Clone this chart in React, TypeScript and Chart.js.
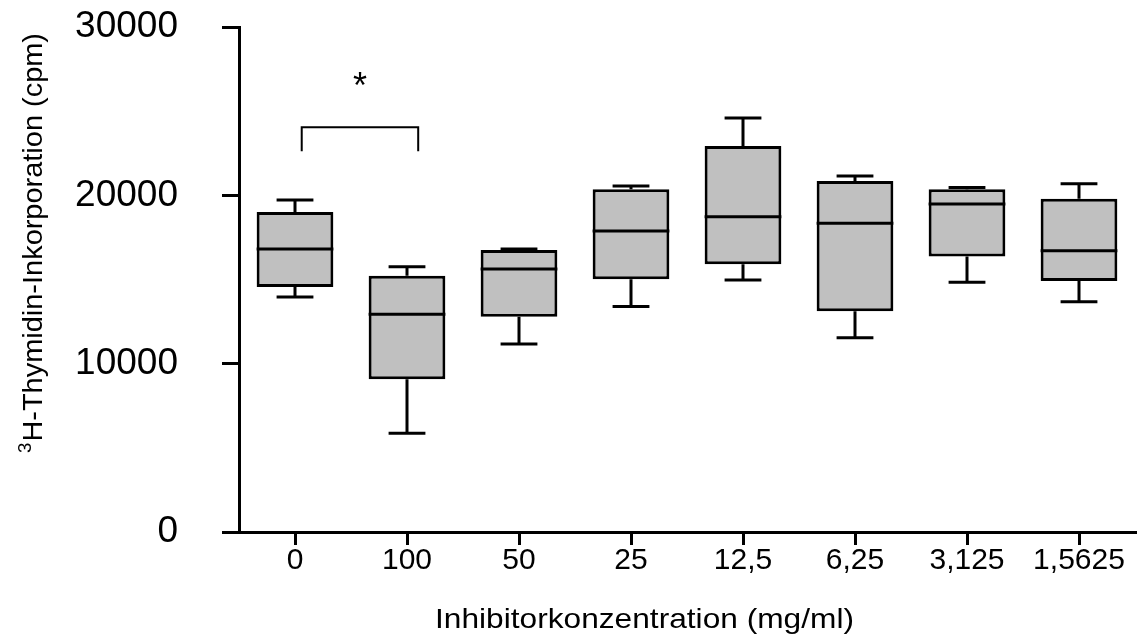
import { useEffect, useRef } from "react";
import { Chart, registerables } from "chart.js";

Chart.register(...registerables);

// Inhibitor concentrations (mg/ml), one box per group
const categories = ["0", "100", "50", "25", "12,5", "6,25", "3,125", "1,5625"];

// Box-plot statistics, ³H-thymidine incorporation (cpm)
const whiskerLow = [13960, 5860, 11170, 13390, 14970, 11540, 14840, 13680];
const q1 = [14560, 9070, 12790, 15010, 15900, 13110, 16360, 14910];
const median = [16810, 12930, 15630, 17880, 18730, 18340, 19490, 16710];
const q3 = [19010, 15230, 16750, 20360, 22930, 20850, 20360, 19800];
const whiskerHigh = [19720, 15760, 16810, 20560, 24600, 21150, 20460, 20690];

const yTicks = [0, 10000, 20000, 30000];

// Significance bracket between the "0" and "100" groups
const bracketFrom = 0.06;
const bracketTo = 1.1;
const bracketTop = 24050;
const bracketLegBottom = 22620;
const bracketMarkValue = 26900;
const bracketMark = "*";

const xTitle = "Inhibitorkonzentration (mg/ml)";
const yTitleSup = "3";
const yTitleMain = "H-Thymidin-Inkorporation (cpm)";

const FONT = "'Liberation Sans', Arial, Helvetica, sans-serif";
const INK = "#000000";
const BOX_FILL = "#c0c0c0";

const boxPlotPlugin = {
  id: "boxWhiskers",
  beforeDatasetsDraw(chart: any) {
    const ctx = chart.ctx;
    const ys = chart.scales.y;
    const meta = chart.getDatasetMeta(0);
    ctx.save();
    ctx.strokeStyle = INK;
    ctx.lineWidth = 3;
    ctx.lineCap = "butt";
    meta.data.forEach((bar: any, i: number) => {
      const { x, width } = bar.getProps(["x", "width"], true);
      const cap = width * 0.48;
      const segs: [number, number][] = [
        [q3[i], whiskerHigh[i]],
        [q1[i], whiskerLow[i]],
      ];
      for (const [from, to] of segs) {
        const y0 = ys.getPixelForValue(from);
        const y1 = ys.getPixelForValue(to);
        ctx.beginPath();
        ctx.moveTo(x, y0);
        ctx.lineTo(x, y1);
        ctx.moveTo(x - cap / 2, y1);
        ctx.lineTo(x + cap / 2, y1);
        ctx.stroke();
      }
    });
    ctx.restore();
  },
  afterDatasetsDraw(chart: any) {
    const ctx = chart.ctx;
    const ys = chart.scales.y;
    const xs = chart.scales.x;
    const meta = chart.getDatasetMeta(0);
    ctx.save();
    ctx.strokeStyle = INK;
    ctx.lineWidth = 3;
    meta.data.forEach((bar: any, i: number) => {
      const { x, width } = bar.getProps(["x", "width"], true);
      const ym = ys.getPixelForValue(median[i]);
      ctx.beginPath();
      ctx.moveTo(x - width / 2, ym);
      ctx.lineTo(x + width / 2, ym);
      ctx.stroke();
    });

    // significance bracket
    const bx1 = xs.getPixelForValue(bracketFrom);
    const bx2 = xs.getPixelForValue(bracketTo);
    const byTop = ys.getPixelForValue(bracketTop);
    const byLeg = ys.getPixelForValue(bracketLegBottom);
    ctx.lineWidth = 2;
    ctx.beginPath();
    ctx.moveTo(bx1, byLeg);
    ctx.lineTo(bx1, byTop);
    ctx.lineTo(bx2, byTop);
    ctx.lineTo(bx2, byLeg);
    ctx.stroke();

    ctx.fillStyle = INK;
    ctx.font = `36px ${FONT}`;
    ctx.textAlign = "center";
    ctx.textBaseline = "alphabetic";
    const m = ctx.measureText(bracketMark);
    const my = ys.getPixelForValue(bracketMarkValue);
    const off = (m.actualBoundingBoxAscent - m.actualBoundingBoxDescent) / 2;
    ctx.fillText(bracketMark, (bx1 + bx2) / 2, my + off);
    ctx.restore();
  },
  afterDraw(chart: any) {
    const ctx = chart.ctx;
    ctx.save();
    ctx.fillStyle = INK;

    // x-axis title
    ctx.font = `28px ${FONT}`;
    ctx.textBaseline = "alphabetic";
    ctx.textAlign = "left";
    const xw = ctx.measureText(xTitle).width;
    const xLeft = 435;
    const xSpan = 419;
    ctx.translate(xLeft, 628);
    ctx.scale(xSpan / xw, 1);
    ctx.fillText(xTitle, 0, 0);
    ctx.restore();

    // y-axis title, rotated, with superscript mass number
    ctx.save();
    ctx.fillStyle = INK;
    ctx.textBaseline = "alphabetic";
    ctx.textAlign = "left";
    ctx.font = `18px ${FONT}`;
    const supW = ctx.measureText(yTitleSup).width;
    ctx.font = `28px ${FONT}`;
    const mainW = ctx.measureText(yTitleMain).width;
    const ySpan = 420;
    const k = ySpan / (supW + 1 + mainW);
    ctx.translate(42, 453);
    ctx.rotate(-Math.PI / 2);
    ctx.scale(k, 1);
    ctx.font = `18px ${FONT}`;
    ctx.fillText(yTitleSup, 0, -11);
    ctx.font = `28px ${FONT}`;
    ctx.fillText(yTitleMain, supW + 1, 0);
    ctx.restore();
  },
};

export default function App() {
  const canvasRef = useRef<HTMLCanvasElement | null>(null);

  useEffect(() => {
    const canvas = canvasRef.current;
    if (!canvas) return;
    Chart.defaults.font.family = FONT;
    const chart = new Chart(canvas, {
      type: "bar",
      data: {
        labels: categories,
        datasets: [
          {
            data: q1.map((v, i) => [v, q3[i]]) as any,
            backgroundColor: BOX_FILL,
            borderColor: INK,
            borderWidth: 3,
            borderSkipped: false,
            barPercentage: 0.685,
            categoryPercentage: 1,
          },
        ],
      },
      options: {
        animation: false,
        responsive: false,
        maintainAspectRatio: false,
        devicePixelRatio: 1,
        layout: { padding: { top: 27, right: 11, left: 0, bottom: 0 } },
        plugins: {
          legend: { display: false },
          tooltip: { enabled: false },
        },
        scales: {
          x: {
            type: "category",
            offset: true,
            grid: {
              offset: false,
              drawOnChartArea: false,
              drawTicks: true,
              tickLength: 13,
              lineWidth: 3,
              color: INK,
            },
            border: { display: true, color: INK, width: 3 },
            ticks: {
              color: INK,
              font: { size: 30, family: FONT },
              padding: -2,
              maxRotation: 0,
              autoSkip: false,
            },
            afterFit: (s: any) => {
              s.height = 105;
              s.paddingLeft = 0;
              s.paddingRight = 0;
            },
          },
          y: {
            type: "linear",
            min: 0,
            max: 30000,
            afterBuildTicks: (s: any) => {
              s.ticks = yTicks.map((v) => ({ value: v }));
            },
            grid: {
              drawOnChartArea: false,
              drawTicks: true,
              tickLength: 17,
              lineWidth: 3,
              color: INK,
            },
            border: { display: true, color: INK, width: 3 },
            ticks: {
              color: INK,
              font: { size: 37, family: FONT },
              padding: 44,
              callback: (v: any) => String(v),
            },
            afterFit: (s: any) => {
              s.width = 239;
              s.paddingTop = 0;
              s.paddingBottom = 0;
            },
          },
        },
      },
      plugins: [boxPlotPlugin],
    });
    return () => chart.destroy();
  }, []);

  return (
    <div
      style={{
        position: "fixed",
        left: 0,
        top: 0,
        width: 1146,
        height: 637,
        background: "#ffffff",
      }}
    >
      <canvas ref={canvasRef} width={1146} height={637} />
    </div>
  );
}
